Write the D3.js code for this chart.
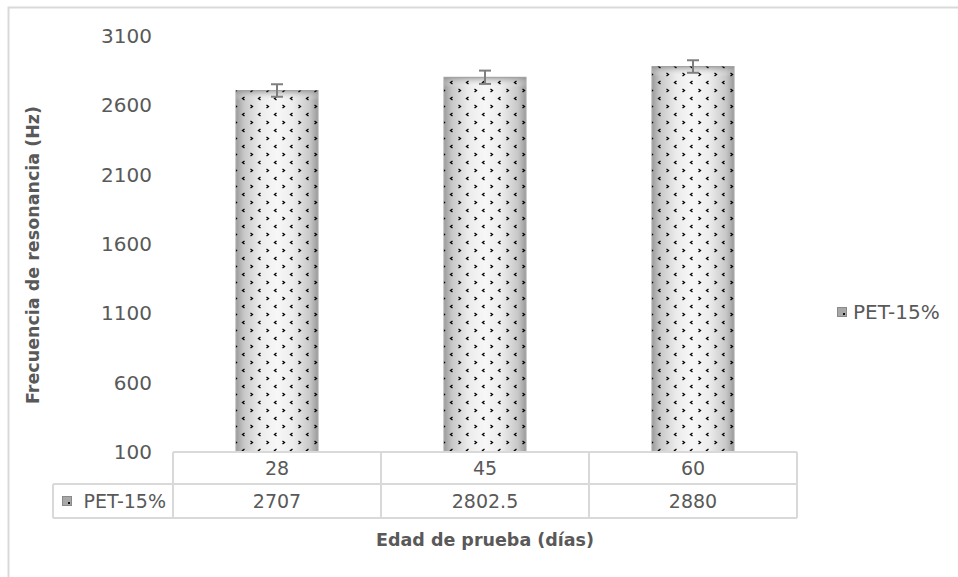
<!DOCTYPE html>
<html>
<head>
<meta charset="utf-8">
<script src="https://cdn.jsdelivr.net/npm/d3@7"></script>
<style>
  html, body { margin: 0; padding: 0; background: #fff; }
  svg { display: block; }
  text { font-family: "DejaVu Sans", sans-serif; fill: #595959; }
</style>
</head>
<body>
<svg id="chart" width="958" height="577"></svg>
<script>
// Test ages (days) and measured resonance frequency
const categories = ["28", "45", "60"];
const seriesName = "PET-15%";
const values = [2707, 2802.5, 2880];
const errors = [45, 48, 45];
const tableLabels = ["2707", "2802.5", "2880"];
const yTicks = [100, 600, 1100, 1600, 2100, 2600, 3100];

const svg = d3.select("#chart");
const W = 958, H = 577;
const plot = { left: 173, right: 797, top: 36, bottom: 452 };
const rowH = [32, 34];
const gridColor = "#d9d9d9";

// Frame of the chart area
svg.append("path")
  .attr("d", `M8.5,${H} V7.5 H${W}`)
  .attr("fill", "none").attr("stroke", gridColor).attr("stroke-width", 2);

// Fill: soft grey shading with a small chevron dot pattern
const defs = svg.append("defs");
const grad = defs.append("linearGradient").attr("id", "barShade")
  .attr("x1", 0).attr("x2", 1).attr("y1", 0).attr("y2", 0);
[[0, "#9a9a9a"], [0.1, "#c8c8c8"], [0.3, "#ececec"], [0.5, "#f7f7f7"], [0.7, "#ececec"], [0.9, "#c8c8c8"], [1, "#9a9a9a"]]
  .forEach(([o, c]) => grad.append("stop").attr("offset", o).attr("stop-color", c));
const topShade = defs.append("linearGradient").attr("id", "barTop")
  .attr("x1", 0).attr("x2", 0).attr("y1", 0).attr("y2", 1);
[[0, "#8c8c8c", 0.7], [1, "#ffffff", 0]]
  .forEach(([o, c, a]) => topShade.append("stop").attr("offset", o).attr("stop-color", c).attr("stop-opacity", a));

const pat = defs.append("pattern").attr("id", "dots")
  .attr("patternUnits", "userSpaceOnUse").attr("width", 16).attr("height", 16);
// "<" chevron
pat.append("path").attr("d", "M4.5,1 L2.5,2.5 L4.5,4")
  .attr("fill", "none").attr("stroke", "#000").attr("stroke-width", 1.3);
// ">" chevron
pat.append("path").attr("d", "M10.5,9 L12.5,10.5 L10.5,12")
  .attr("fill", "none").attr("stroke", "#000").attr("stroke-width", 1.3);

const x = d3.scaleBand().domain(categories).range([plot.left, plot.right]);
const barW = x.bandwidth() * 0.395;
const y = d3.scaleLinear().domain([100, 3100]).range([plot.bottom, plot.top]);

// Y axis labels
const yAxis = d3.axisLeft(y).tickValues(yTicks).tickSize(0).tickPadding(0).tickFormat(d3.format("d"));
const gy = svg.append("g").attr("transform", "translate(152,0)").call(yAxis);
gy.select(".domain").remove();
gy.selectAll("text").style("font-size", "20px").style("fill", "#595959")
  .style("font-family", "'DejaVu Sans', sans-serif");

// Bars
const barX = (i) => x(categories[i]) + (x.bandwidth() - barW) / 2;
const bars = svg.append("g");
bars.selectAll("rect.shade").data(values).join("rect")
  .attr("class", "shade")
  .attr("x", (d, i) => barX(i))
  .attr("y", d => y(d))
  .attr("width", barW)
  .attr("height", d => plot.bottom - y(d))
  .attr("fill", "url(#barShade)")
  .attr("stroke", "#b0b0b0").attr("stroke-width", 1);
bars.selectAll("rect.top").data(values).join("rect")
  .attr("class", "top")
  .attr("x", (d, i) => barX(i))
  .attr("y", d => y(d))
  .attr("width", barW)
  .attr("height", 10)
  .attr("fill", "url(#barTop)");
bars.selectAll("rect.pat").data(values).join("rect")
  .attr("class", "pat")
  .attr("x", (d, i) => barX(i))
  .attr("y", d => y(d))
  .attr("width", barW)
  .attr("height", d => plot.bottom - y(d))
  .attr("fill", "url(#dots)");

// Error bars
const eb = svg.append("g").attr("stroke", "#7f7f7f").attr("stroke-width", 2).attr("fill", "none");
values.forEach((v, i) => {
  const cx = x(categories[i]) + x.bandwidth() / 2;
  const hi = y(v + errors[i]), lo = y(v - errors[i]);
  eb.append("line").attr("x1", cx).attr("x2", cx).attr("y1", hi).attr("y2", lo);
  eb.append("line").attr("x1", cx - 6).attr("x2", cx + 6).attr("y1", hi).attr("y2", hi);
  eb.append("line").attr("x1", cx - 6).attr("x2", cx + 6).attr("y1", lo).attr("y2", lo);
});

// Data table under the plot
const tbl = svg.append("g").attr("stroke", gridColor).attr("stroke-width", 2).attr("fill", "none");
const r0 = plot.bottom, r1 = r0 + rowH[0], r2 = r1 + rowH[1];
const keyLeft = 53;
tbl.append("line").attr("x1", plot.left).attr("x2", plot.right).attr("y1", r0).attr("y2", r0);
tbl.append("line").attr("x1", keyLeft).attr("x2", plot.right).attr("y1", r1).attr("y2", r1);
tbl.append("line").attr("x1", keyLeft).attr("x2", plot.right).attr("y1", r2).attr("y2", r2);
tbl.append("line").attr("x1", keyLeft).attr("x2", keyLeft).attr("y1", r1).attr("y2", r2);
[plot.left, ...categories.map(c => x(c) + x.bandwidth())].forEach(xx =>
  tbl.append("line").attr("x1", xx).attr("x2", xx).attr("y1", r0).attr("y2", r2));

const cells = svg.append("g").style("font-size", "19px");
categories.forEach((c, i) => {
  const cx = x(c) + x.bandwidth() / 2;
  cells.append("text").attr("x", cx).attr("y", (r0 + r1) / 2).attr("dy", "0.35em")
    .attr("text-anchor", "middle").text(c);
  cells.append("text").attr("x", cx).attr("y", (r1 + r2) / 2).attr("dy", "0.35em")
    .attr("text-anchor", "middle").text(tableLabels[i]);
});

function legendKey(g, kx, ky) {
  g.append("rect").attr("x", kx).attr("y", ky).attr("width", 10).attr("height", 10)
    .attr("fill", "#8a8a8a");
  g.append("rect").attr("x", kx + 1).attr("y", ky + 1).attr("width", 8).attr("height", 8)
    .attr("fill", "#a8a8a8");
  g.append("rect").attr("x", kx + 6).attr("y", ky + 6).attr("width", 2).attr("height", 2)
    .attr("fill", "#111");
}
legendKey(svg.append("g"), 62, (r1 + r2) / 2 - 5);
cells.append("text").attr("x", 166).attr("y", (r1 + r2) / 2).attr("dy", "0.35em")
  .attr("text-anchor", "end").text(seriesName);

// Legend on the right
const lg = svg.append("g");
legendKey(lg, 837, 307);
lg.append("text").attr("x", 853).attr("y", 312).attr("dy", "0.35em")
  .style("font-size", "20px").text(seriesName);

// Axis titles
svg.append("text").attr("x", (plot.left + plot.right) / 2).attr("y", 540).attr("dy", "0.35em")
  .attr("text-anchor", "middle").style("font-size", "17.5px").style("font-weight", "bold")
  .text("Edad de prueba (días)");
svg.append("text").attr("transform", `translate(33,${(plot.top + plot.bottom) / 2 + 11}) rotate(-90)`)
  .attr("dy", "0.35em").attr("text-anchor", "middle")
  .style("font-size", "17.5px").style("font-weight", "bold")
  .text("Frecuencia de resonancia (Hz)");
</script>
</body>
</html>
